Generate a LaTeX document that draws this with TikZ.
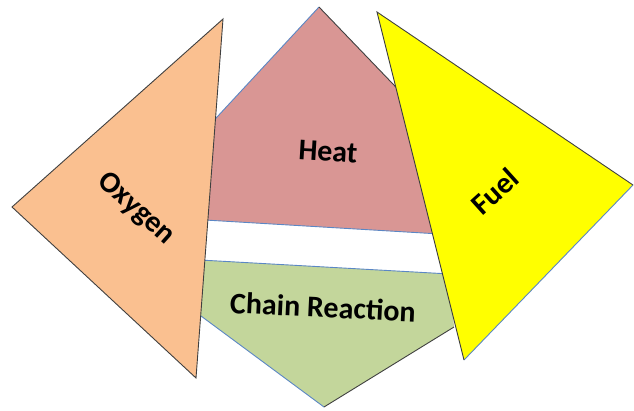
\documentclass[tikz,border=0pt]{standalone}
\usepackage{fontspec}
\setmainfont{Carlito}
\definecolor{oxyfill}{HTML}{FAC090}
\definecolor{heatfill}{HTML}{D99694}
\definecolor{chainfill}{HTML}{C3D69B}
\definecolor{fuelfill}{HTML}{FFFF00}
\definecolor{edgeblue}{HTML}{5B87C5}
\definecolor{edgedark}{HTML}{404040}
\begin{document}
\begin{tikzpicture}[x=1pt,y=-1pt,
  lbl/.style={font=\bfseries\fontsize{30}{36}\selectfont, text=black, inner sep=0pt},
  blueedge/.style={draw=edgeblue, line width=0.9pt},
  darkedge/.style={draw=edgedark, line width=0.9pt}]
\useasboundingbox (0,0) rectangle (634,410);
% Heat
\coordinate (hA) at (319,7);
\coordinate (hL) at (205,130);
\coordinate (hR) at (440,133);
\coordinate (hBL) at (205,220);
\coordinate (hBR) at (440,234);
\fill[heatfill] (hA) -- (hR) -- (hBR) -- (hBL) -- (hL) -- cycle;
\draw[blueedge] (hL) -- (hA);
\draw[darkedge] (hA) -- (hR);
\draw[blueedge] (hBL) -- (hBR);
\node[lbl, rotate=-3.4] (heat) at (328,152) {Heat};
% Chain Reaction
\coordinate (cTL) at (200,260);
\coordinate (cTR) at (450,274);
\coordinate (cR) at (454,327);
\coordinate (cL) at (201,316);
\coordinate (cB) at (324,407);
\fill[chainfill] (cTL) -- (cTR) -- (cR) -- (cB) -- (cL) -- cycle;
\draw[blueedge] (cTL) -- (cTR);
\draw[blueedge] (cL) -- (cB);
\draw[darkedge] (cB) -- (cR);
\node[lbl, rotate=-2.7] (chain) at (323,307) {Chain Reaction};
% Oxygen
\coordinate (oT) at (223,19);
\coordinate (oL) at (12,207);
\coordinate (oB) at (196,378);
\filldraw[fill=oxyfill, darkedge, line join=miter] (oT) -- (oL) -- (oB) -- cycle;
\node[lbl, rotate=-42] (oxy) at (136,209) {Oxygen};
% Fuel
\coordinate (fT) at (377,12);
\coordinate (fR) at (633,185);
\coordinate (fB) at (464,360);
\fill[fuelfill] (fT) -- (fR) -- (fB) -- cycle;
\draw[blueedge] (fR) -- (fB);
\draw[darkedge, line join=miter] (fR) -- (fT) -- (fB);
\node[lbl, rotate=42] (fuel) at (495,191) {Fuel};
\end{tikzpicture}
\end{document}
